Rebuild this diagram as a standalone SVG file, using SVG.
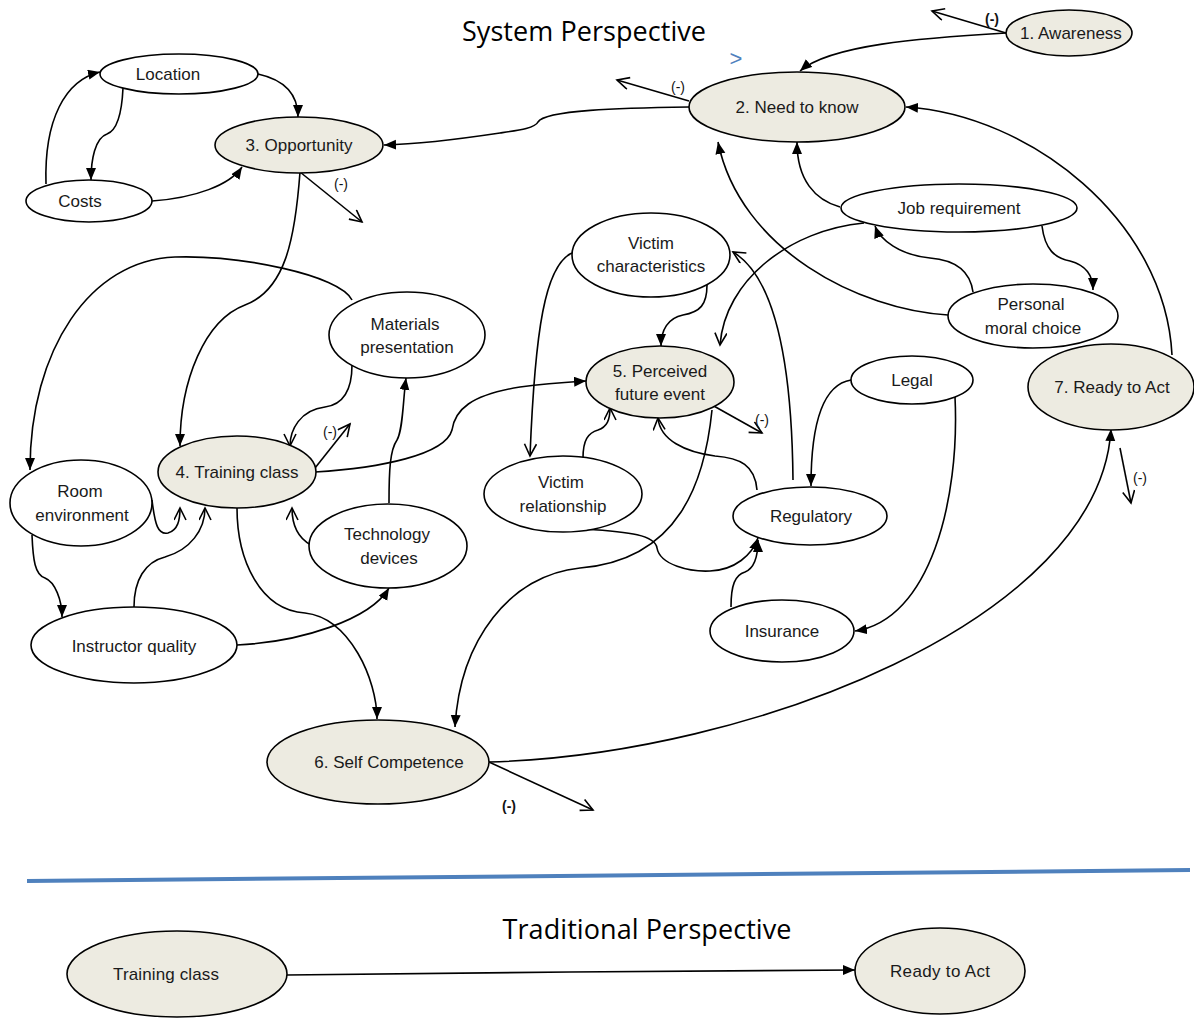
<svg xmlns="http://www.w3.org/2000/svg" width="1194" height="1019" viewBox="0 0 1194 1019">
<defs>
<marker id="fa" markerUnits="userSpaceOnUse" markerWidth="14" markerHeight="12" refX="12" refY="5" orient="auto">
<path d="M0,0 L12,5 L0,10 z" fill="#000"/>
</marker>
<marker id="oa" markerUnits="userSpaceOnUse" markerWidth="16" markerHeight="14" refX="13" refY="6.5" orient="auto">
<path d="M1,0.5 L13,6.5 L1,12.5" fill="none" stroke="#000" stroke-width="1.6"/>
</marker>
</defs>
<style>
.n{fill:#fff;stroke:#000;stroke-width:1.6}
.k{fill:#EDEBE1;stroke:#000;stroke-width:1.6}
.t{font-family:"Liberation Sans",Arial,sans-serif;font-size:17px;fill:#1a1a1a;text-anchor:middle}
.m{font-family:"Liberation Sans",Arial,sans-serif;font-size:14px;fill:#111;text-anchor:middle}
.b{font-weight:bold}
.h{font-family:"Open Sans","Noto Sans",sans-serif;font-size:27px;fill:#000;text-anchor:middle}
.c path{fill:none;stroke:#000;stroke-width:1.6}
.f{marker-end:url(#fa)}
.o{marker-end:url(#oa)}
</style>
<rect width="1194" height="1019" fill="#fff"/>
<text class="h" x="584" y="41" textLength="244">System Perspective</text>
<text x="736" y="66" font-family="Liberation Sans,Arial,sans-serif" font-size="22" fill="#4F81BD" text-anchor="middle">&gt;</text>

<g class="c" id="connectors">
<path class="f" d="M1006,33 C920,38 830,45 800,71"/>
<path class="o" d="M1006,33 L932,11"/>
<path class="f" d="M689,107 C620,108 545,110 538,122 C535,128 520,130 500,133 C460,139 420,144 384,145"/>
<path class="o" d="M689,101 L617,80"/>
<path class="f" d="M258,74 C285,80 298,95 298,117"/>
<path class="f" d="M123,88 C122,110 118,130 107,134 C95,138 91,160 91,180"/>
<path class="f" d="M46,184 C44,120 65,80 100,72"/>
<path class="f" d="M152,201 C195,198 230,185 242,167"/>
<path class="o" d="M300,172 L362,222"/>
<path class="f" d="M300,172 C295,240 285,290 245,305 C205,320 180,380 180,446"/>
<path class="f" d="M352,300 C340,275 240,255 175,257 C90,260 30,350 30,470"/>
<path class="o" d="M352,365 C352,395 340,405 325,407 C300,410 290,430 290,446"/>
<path class="o" d="M315,468 L350,424"/>
<path class="f" d="M315,472 C380,468 445,455 452,430 C455,410 470,395 520,387 C550,383 570,382 586,381"/>
<path class="f" d="M389,503 C389,470 390,450 397,440 C403,430 403,400 406,378"/>
<path class="o" d="M311,545 C298,538 292,525 292,508"/>
<path class="o" d="M152,500 C155,525 158,535 168,533 C178,530 180,520 180,508"/>
<path class="o" d="M134,607 C134,580 145,562 165,557 C190,550 205,530 205,508"/>
<path class="f" d="M32,535 C33,560 35,575 45,578 C55,582 62,600 62,617"/>
<path class="f" d="M237,645 C300,642 370,620 389,588"/>
<path class="f" d="M237,508 C237,560 260,610 305,613 C350,618 377,680 377,719"/>
<path class="f" d="M712,410 C705,480 680,560 580,568 C510,575 460,640 455,727"/>
<path class="f" d="M489,762 C750,755 1100,620 1111,429"/>
<path class="o" d="M489,762 L593,810"/>
<path class="f" d="M1172,355 C1165,220 1030,115 906,107"/>
<path class="o" d="M1120,448 L1131,503"/>
<path class="f" d="M840,207 C815,200 797,180 797,142"/>
<path class="f" d="M948,315 C860,310 740,250 718,142"/>
<path class="f" d="M973,292 C970,270 955,260 930,258 C900,255 880,240 875,226"/>
<path class="f" d="M1042,226 C1045,250 1055,258 1070,261 C1085,265 1093,275 1093,290"/>
<path class="o" d="M864,223 C790,230 725,280 720,345"/>
<path class="o" d="M793,480 C792,380 780,280 733,252"/>
<path class="o" d="M572,253 C545,265 535,330 530,456"/>
<path class="f" d="M707,285 C707,305 700,312 683,315 C668,318 661,330 661,346"/>
<path class="o" d="M583,458 C583,440 588,433 598,430 C607,427 610,420 610,408"/>
<path class="o" d="M757,490 C755,465 740,458 715,456 C685,452 660,440 658,418"/>
<path class="f" d="M585,529 C630,532 655,535 657,548 C660,565 690,572 710,571 C735,570 752,555 758,538"/>
<path class="f" d="M731,607 C731,585 735,575 745,572 C755,568 758,555 758,540"/>
<path class="f" d="M851,380 C820,385 811,430 811,486"/>
<path class="f" d="M955,397 C960,500 930,620 855,631"/>
<path class="o" d="M712,405 L762,433"/>
<path class="f" d="M287,975 L570,972 L855,970"/>
</g>

<g id="labels">
<text class="m b" x="992" y="24">(-)</text>
<text class="m" x="678" y="92">(-)</text>
<text class="m" x="341" y="189">(-)</text>
<text class="m" x="330" y="437">(-)</text>
<text class="m" x="762" y="425">(-)</text>
<text class="m" x="1140" y="483">(-)</text>
<text class="m b" x="509" y="811">(-)</text>
</g>

<g id="awareness"><ellipse class="k" cx="1069" cy="33" rx="63" ry="23"/><text class="t" x="1071" y="39">1. Awareness</text></g>
<g id="need"><ellipse class="k" cx="797" cy="107" rx="108" ry="35"/><text class="t" x="797" y="113">2. Need to know</text></g>
<g id="opportunity"><ellipse class="k" cx="299" cy="145" rx="84" ry="28"/><text class="t" x="299" y="151">3. Opportunity</text></g>
<g id="location"><ellipse class="n" cx="179" cy="74" rx="79" ry="20"/><text class="t" x="168" y="80">Location</text></g>
<g id="costs"><ellipse class="n" cx="89" cy="201" rx="63" ry="21"/><text class="t" x="80" y="207">Costs</text></g>
<g id="job"><ellipse class="n" cx="959" cy="208" rx="118" ry="24"/><text class="t" x="959" y="214">Job requirement</text></g>
<g id="victimchar"><ellipse class="n" cx="651" cy="255" rx="79" ry="42"/><text class="t" x="651" y="249">Victim</text><text class="t" x="651" y="272">characteristics</text></g>
<g id="moral"><ellipse class="n" cx="1033" cy="316" rx="85" ry="32"/><text class="t" x="1031" y="310">Personal</text><text class="t" x="1033" y="334">moral choice</text></g>
<g id="materials"><ellipse class="n" cx="407" cy="335" rx="78" ry="43"/><text class="t" x="405" y="330">Materials</text><text class="t" x="407" y="353">presentation</text></g>
<g id="perceived"><ellipse class="k" cx="660" cy="382" rx="74" ry="36"/><text class="t" x="660" y="377">5. Perceived</text><text class="t" x="660" y="400">future event</text></g>
<g id="legal"><ellipse class="n" cx="912" cy="380" rx="61" ry="24"/><text class="t" x="912" y="386">Legal</text></g>
<g id="ready"><ellipse class="k" cx="1111" cy="387" rx="83" ry="43"/><text class="t" x="1112" y="393">7. Ready to Act</text></g>
<g id="room"><ellipse class="n" cx="81" cy="503" rx="71" ry="43"/><text class="t" x="80" y="497">Room</text><text class="t" x="82" y="521">environment</text></g>
<g id="training"><ellipse class="k" cx="237" cy="472" rx="79" ry="36"/><text class="t" x="237" y="478">4. Training class</text></g>
<g id="victimrel"><ellipse class="n" cx="563" cy="494" rx="79" ry="38"/><text class="t" x="561" y="488">Victim</text><text class="t" x="563" y="512">relationship</text></g>
<g id="regulatory"><ellipse class="n" cx="810" cy="516" rx="77" ry="29"/><text class="t" x="811" y="522">Regulatory</text></g>
<g id="technology"><ellipse class="n" cx="388" cy="546" rx="79" ry="42"/><text class="t" x="387" y="540">Technology</text><text class="t" x="389" y="564">devices</text></g>
<g id="insurance"><ellipse class="n" cx="782" cy="631" rx="72" ry="31"/><text class="t" x="782" y="637">Insurance</text></g>
<g id="instructor"><ellipse class="n" cx="134" cy="645" rx="103" ry="38"/><text class="t" x="134" y="652">Instructor quality</text></g>
<g id="selfcomp"><ellipse class="k" cx="378" cy="762" rx="111" ry="42"/><text class="t" x="389" y="768">6. Self Competence</text></g>

<line x1="27" y1="881" x2="1190" y2="870" stroke="#4F81BD" stroke-width="4"/>
<text class="h" x="647" y="939" textLength="289">Traditional Perspective</text>

<g id="trad-training"><ellipse class="k" cx="177" cy="974" rx="110" ry="43"/><text class="t" x="166" y="980" textLength="106">Training class</text></g>
<g id="trad-ready"><ellipse class="k" cx="940" cy="971" rx="85" ry="43"/><text class="t" x="940" y="977" textLength="100">Ready to Act</text></g>
</svg>
